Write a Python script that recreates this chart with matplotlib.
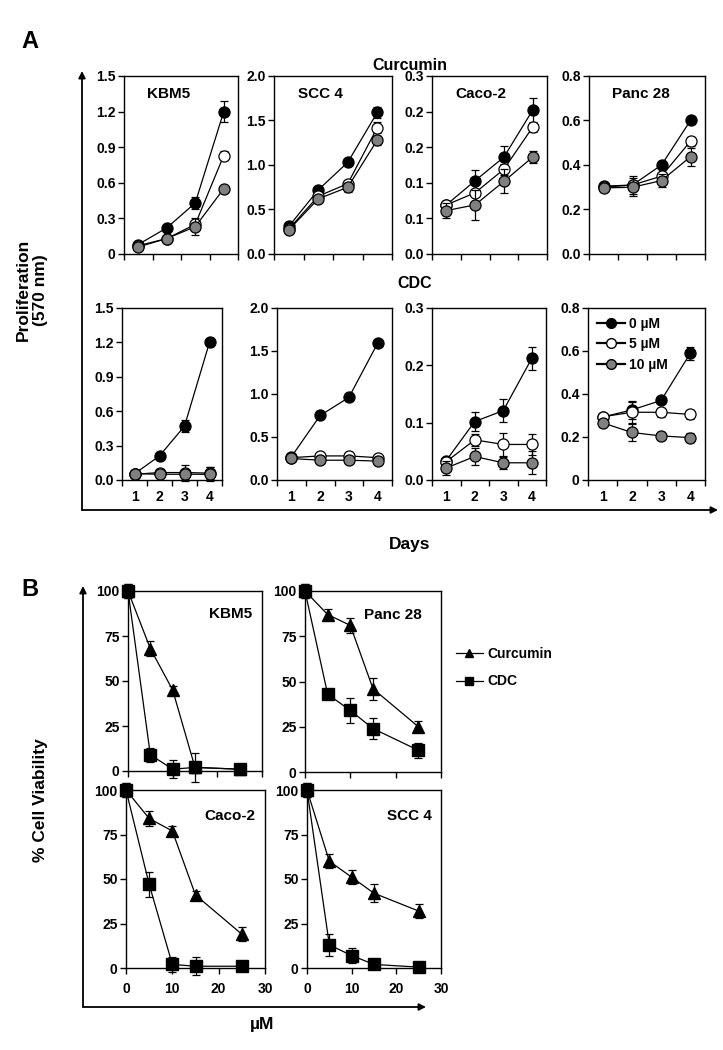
import matplotlib
matplotlib.use("Agg")
import matplotlib.pyplot as plt
from matplotlib.lines import Line2D

plt.rcParams['font.family'] = ['Liberation Sans', 'DejaVu Sans']
plt.rcParams['font.weight'] = 'bold'

W, H = 723, 1050

# ---------------- Panel A data ----------------
days = [1, 2, 3, 4]
day_labels = ["1", "2", "3", "4"]
doses = ["0 µM", "5 µM", "10 µM"]
cells_A = ["KBM5", "SCC 4", "Caco-2", "Panc 28"]

# Curcumin row: values[dose] and errors[dose]
cur_kbm5 = [[0.08, 0.22, 0.43, 1.20], [0.07, 0.13, 0.25, 0.83], [0.06, 0.13, 0.23, 0.55]]
cur_kbm5_err = [[0.01, 0.02, 0.05, 0.09], [0.01, 0.02, 0.04, 0.04], [0.01, 0.02, 0.07, 0.02]]
cur_scc4 = [[0.31, 0.72, 1.03, 1.59], [0.28, 0.65, 0.79, 1.42], [0.27, 0.62, 0.75, 1.28]]
cur_scc4_err = [[0.02, 0.03, 0.03, 0.06], [0.02, 0.03, 0.03, 0.06], [0.02, 0.03, 0.05, 0.05]]
cur_caco = [[0.069, 0.103, 0.136, 0.202], [0.069, 0.086, 0.119, 0.178], [0.061, 0.069, 0.102, 0.136]]
cur_caco_err = [[0.005, 0.015, 0.015, 0.017], [0.005, 0.005, 0.008, 0.006], [0.01, 0.021, 0.017, 0.008]]
cur_panc = [[0.305, 0.31, 0.40, 0.60], [0.30, 0.31, 0.35, 0.507], [0.297, 0.30, 0.33, 0.437]]
cur_panc_err = [[0.01, 0.02, 0.02, 0.015], [0.01, 0.04, 0.02, 0.02], [0.01, 0.04, 0.03, 0.04]]

# CDC row
cdc_kbm5 = [[0.054, 0.21, 0.47, 1.20], [0.05, 0.065, 0.065, 0.06], [0.055, 0.05, 0.05, 0.05]]
cdc_kbm5_err = [[0.01, 0.02, 0.05, 0.03], [0.01, 0.02, 0.07, 0.05], [0.01, 0.03, 0.04, 0.06]]
cdc_scc4 = [[0.27, 0.75, 0.96, 1.59], [0.26, 0.28, 0.28, 0.26], [0.25, 0.23, 0.23, 0.22]]
cdc_scc4_err = [[0.02, 0.02, 0.04, 0.03], [0.02, 0.02, 0.02, 0.03], [0.02, 0.02, 0.03, 0.05]]
cdc_caco = [[0.034, 0.102, 0.121, 0.212], [0.032, 0.070, 0.062, 0.062], [0.021, 0.041, 0.030, 0.030]]
cdc_caco_err = [[0.005, 0.017, 0.02, 0.02], [0.005, 0.01, 0.02, 0.018], [0.012, 0.015, 0.01, 0.02]]
cdc_panc = [[0.293, 0.326, 0.37, 0.59], [0.294, 0.315, 0.315, 0.305], [0.266, 0.221, 0.205, 0.197]]
cdc_panc_err = [[0.01, 0.04, 0.01, 0.03], [0.01, 0.05, 0.02, 0.02], [0.01, 0.04, 0.02, 0.02]]

yt_kbm5 = [0, 0.3, 0.6, 0.9, 1.2, 1.5]
yt_scc4 = [0, 0.5, 1.0, 1.5, 2.0]
yt_caco_top = [0, 0.05, 0.10, 0.15, 0.20, 0.25]
yt_caco_bot = [0, 0.1, 0.2, 0.3]
yt_panc = [0, 0.2, 0.4, 0.6, 0.8]

ytl_kbm5_top = ["0", "0.3", "0.6", "0.9", "1.2", "1.5"]
ytl_kbm5_bot = ["0.0", "0.3", "0.6", "0.9", "1.2", "1.5"]
ytl_scc4 = ["0.0", "0.5", "1.0", "1.5", "2.0"]
ytl_caco_top = ["0.0", "0.1", "0.1", "0.2", "0.2", "0.3"]
ytl_caco_bot = ["0.0", "0.1", "0.2", "0.3"]
ytl_panc_top = ["0.0", "0.2", "0.4", "0.6", "0.8"]
ytl_panc_bot = ["0", "0.2", "0.4", "0.6", "0.8"]

# ---------------- Panel B data ----------------
conc = [0, 5, 10, 15, 25]
cells_B = ["KBM5", "Panc 28", "Caco-2", "SCC 4"]
via_cur = {
    "KBM5": [100, 68, 45, 2, 1],
    "Panc 28": [100, 87, 81, 46, 25],
    "Caco-2": [100, 84, 77, 41, 19],
    "SCC 4": [100, 60, 51, 42, 32],
}
via_cur_err = {
    "KBM5": [4, 4, 2, 8, 1],
    "Panc 28": [4, 3, 4, 6, 3],
    "Caco-2": [4, 4, 3, 2, 4],
    "SCC 4": [4, 4, 4, 5, 4],
}
via_cdc = {
    "KBM5": [100, 9, 1, 2, 1],
    "Panc 28": [100, 43, 34, 24, 12],
    "Caco-2": [100, 47, 2, 1, 1],
    "SCC 4": [100, 13, 7, 2, 0.5],
}
via_cdc_err = {
    "KBM5": [4, 4, 5, 3, 1],
    "Panc 28": [4, 2, 7, 6, 4],
    "Caco-2": [4, 7, 4, 5, 1],
    "SCC 4": [4, 6, 4, 1, 1],
}
yt_B = [0, 25, 50, 75, 100]
xt_B = [0, 10, 20, 30]

# ---------------- helpers ----------------
fig = plt.figure(figsize=(W / 100, H / 100), dpi=100)


def px_axes(x0, x1, y0, y1):
    return fig.add_axes([x0 / W, 1 - y1 / H, (x1 - x0) / W, (y1 - y0) / H])


def fx(x):
    return x / W


def fy(y):
    return 1 - y / H


dose_face = ["black", "white", "#808080"]
TICK_FS = 10


def style_ax(ax):
    for s in ax.spines.values():
        s.set_linewidth(1.0)
        s.set_color("black")
    ax.tick_params(direction="out", length=4, width=1, labelsize=TICK_FS, pad=2)


def panel_A(ax, vals, errs, yt, ytl, title=None, show_x=False, legend=False):
    for i in range(3):
        ax.errorbar(days, vals[i], yerr=errs[i], color="black", lw=0.9,
                    marker="o", ms=8, mfc=dose_face[i], mec="black", mew=0.9,
                    capsize=3, elinewidth=0.9, capthick=0.9,
                    clip_on=False, zorder=3 + i)
    ax.set_xlim(0.5, 4.5)
    ax.set_ylim(yt[0], yt[-1])
    ax.set_yticks(yt)
    ax.set_yticklabels(ytl, fontweight="bold")
    ax.set_xticks([0.5, 1.5, 2.5, 3.5, 4.5])
    ax.set_xticklabels([])
    style_ax(ax)
    if show_x:
        ax.set_xticks(days, minor=True)
        ax.set_xticklabels(day_labels, minor=True, fontweight="bold")
        ax.tick_params(axis="x", which="minor", length=0, labelsize=TICK_FS, pad=7)
    if title:
        ax.text(0.2, 0.9, title, transform=ax.transAxes, fontsize=11,
                fontweight="bold", ha="left", va="center")
    if legend:
        hs = [Line2D([], [], color="black", lw=1.6, marker="o", ms=7,
                     mfc=dose_face[i], mec="black") for i in range(3)]
        ax.legend(hs, doses, loc="upper left", frameon=False, handlelength=2.0,
                  handletextpad=0.3, labelspacing=0.45, borderaxespad=0.25,
                  prop={"weight": "bold", "size": 10})


top_pos = [(124, 238), (274, 392), (432, 547), (589, 705)]
bot_pos = [(122, 222), (277, 392), (432, 546), (588, 705)]
top_data = [(cur_kbm5, cur_kbm5_err, yt_kbm5, ytl_kbm5_top),
            (cur_scc4, cur_scc4_err, yt_scc4, ytl_scc4),
            (cur_caco, cur_caco_err, yt_caco_top, ytl_caco_top),
            (cur_panc, cur_panc_err, yt_panc, ytl_panc_top)]
bot_data = [(cdc_kbm5, cdc_kbm5_err, yt_kbm5, ytl_kbm5_bot),
            (cdc_scc4, cdc_scc4_err, yt_scc4, ytl_scc4),
            (cdc_caco, cdc_caco_err, yt_caco_bot, ytl_caco_bot),
            (cdc_panc, cdc_panc_err, yt_panc, ytl_panc_bot)]

for k in range(4):
    ax = px_axes(top_pos[k][0], top_pos[k][1], 76, 254)
    v, e, yt, ytl = top_data[k]
    panel_A(ax, v, e, yt, ytl, title=cells_A[k])
for k in range(4):
    ax = px_axes(bot_pos[k][0], bot_pos[k][1], 308, 480)
    v, e, yt, ytl = bot_data[k]
    panel_A(ax, v, e, yt, ytl, show_x=True, legend=(k == 3))

# Panel A decorations
fig.text(fx(30), fy(42), "A", fontsize=17, fontweight="bold", ha="center", va="center")
fig.text(fx(410), fy(65), "Curcumin", fontsize=11.5, fontweight="bold", ha="center", va="center")
fig.text(fx(415), fy(283), "CDC", fontsize=11.5, fontweight="bold", ha="center", va="center")
fig.text(fx(32), fy(290), "Proliferation\n(570 nm)", fontsize=12.5, fontweight="bold",
         ha="center", va="center", rotation=90, linespacing=1.2)
fig.text(fx(410), fy(545), "Days", fontsize=12.5, fontweight="bold", ha="center", va="center")
arr = dict(arrowstyle="-|>", color="black", lw=1.3, mutation_scale=10, shrinkA=0, shrinkB=0)
fig.add_artist(matplotlib.patches.FancyArrowPatch((fx(82), fy(510)), (fx(82), fy(71)),
                                                  transform=fig.transFigure, **arr))
fig.add_artist(matplotlib.patches.FancyArrowPatch((fx(82), fy(510)), (fx(718), fy(510)),
                                                  transform=fig.transFigure, **arr))

# ---------------- Panel B ----------------
B_pos = {"KBM5": (128, 262, 591, 771), "Panc 28": (305, 441, 591, 772),
         "Caco-2": (126, 265, 790, 968), "SCC 4": (307, 441, 790, 968)}
B_title = {"KBM5": (0.93, 0.87), "Panc 28": (0.86, 0.87),
           "Caco-2": (0.93, 0.855), "SCC 4": (0.93, 0.855)}
for name in cells_B:
    x0, x1, y0, y1 = B_pos[name]
    ax = px_axes(x0, x1, y0, y1)
    ax.errorbar(conc, via_cur[name], yerr=via_cur_err[name], color="black", lw=0.9,
                marker="^", ms=9, mfc="black", mec="black", capsize=3,
                elinewidth=0.9, capthick=0.9, clip_on=False, zorder=3)
    ax.errorbar(conc, via_cdc[name], yerr=via_cdc_err[name], color="black", lw=0.9,
                marker="s", ms=9, mfc="black", mec="black", capsize=3,
                elinewidth=0.9, capthick=0.9, clip_on=False, zorder=4)
    ax.set_xlim(0, 30)
    ax.set_ylim(0, 100)
    ax.set_yticks(yt_B)
    ax.set_yticklabels([str(t) for t in yt_B], fontweight="bold")
    ax.set_xticks(xt_B)
    if name in ("Caco-2", "SCC 4"):
        ax.set_xticklabels([str(t) for t in xt_B], fontweight="bold")
    else:
        ax.set_xticklabels([])
    style_ax(ax)
    ax.tick_params(axis="x", pad=6)
    tx, ty = B_title[name]
    ax.text(tx, ty, name, transform=ax.transAxes, fontsize=11,
            fontweight="bold", ha="right", va="center")

fig.text(fx(30), fy(590), "B", fontsize=17, fontweight="bold", ha="center", va="center")
fig.text(fx(40), fy(800), "% Cell Viability", fontsize=12.5, fontweight="bold",
         ha="center", va="center", rotation=90)
fig.text(fx(262), fy(1025), "µM", fontsize=12.5, fontweight="bold", ha="center", va="center")
fig.add_artist(matplotlib.patches.FancyArrowPatch((fx(83), fy(1007)), (fx(83), fy(586)),
                                                  transform=fig.transFigure, **arr))
fig.add_artist(matplotlib.patches.FancyArrowPatch((fx(83), fy(1007)), (fx(426), fy(1007)),
                                                  transform=fig.transFigure, **arr))

handles = [Line2D([], [], color="black", lw=0.9, marker="^", ms=6, mfc="black"),
           Line2D([], [], color="black", lw=0.9, marker="s", ms=6, mfc="black")]
fig.legend(handles, ["Curcumin", "CDC"], loc="upper left",
           bbox_to_anchor=(fx(443), fy(634)), frameon=False, handlelength=2.0,
           handletextpad=0.3, labelspacing=1.0, prop={"weight": "bold", "size": 10})

fig.savefig("out.png", dpi=100)
